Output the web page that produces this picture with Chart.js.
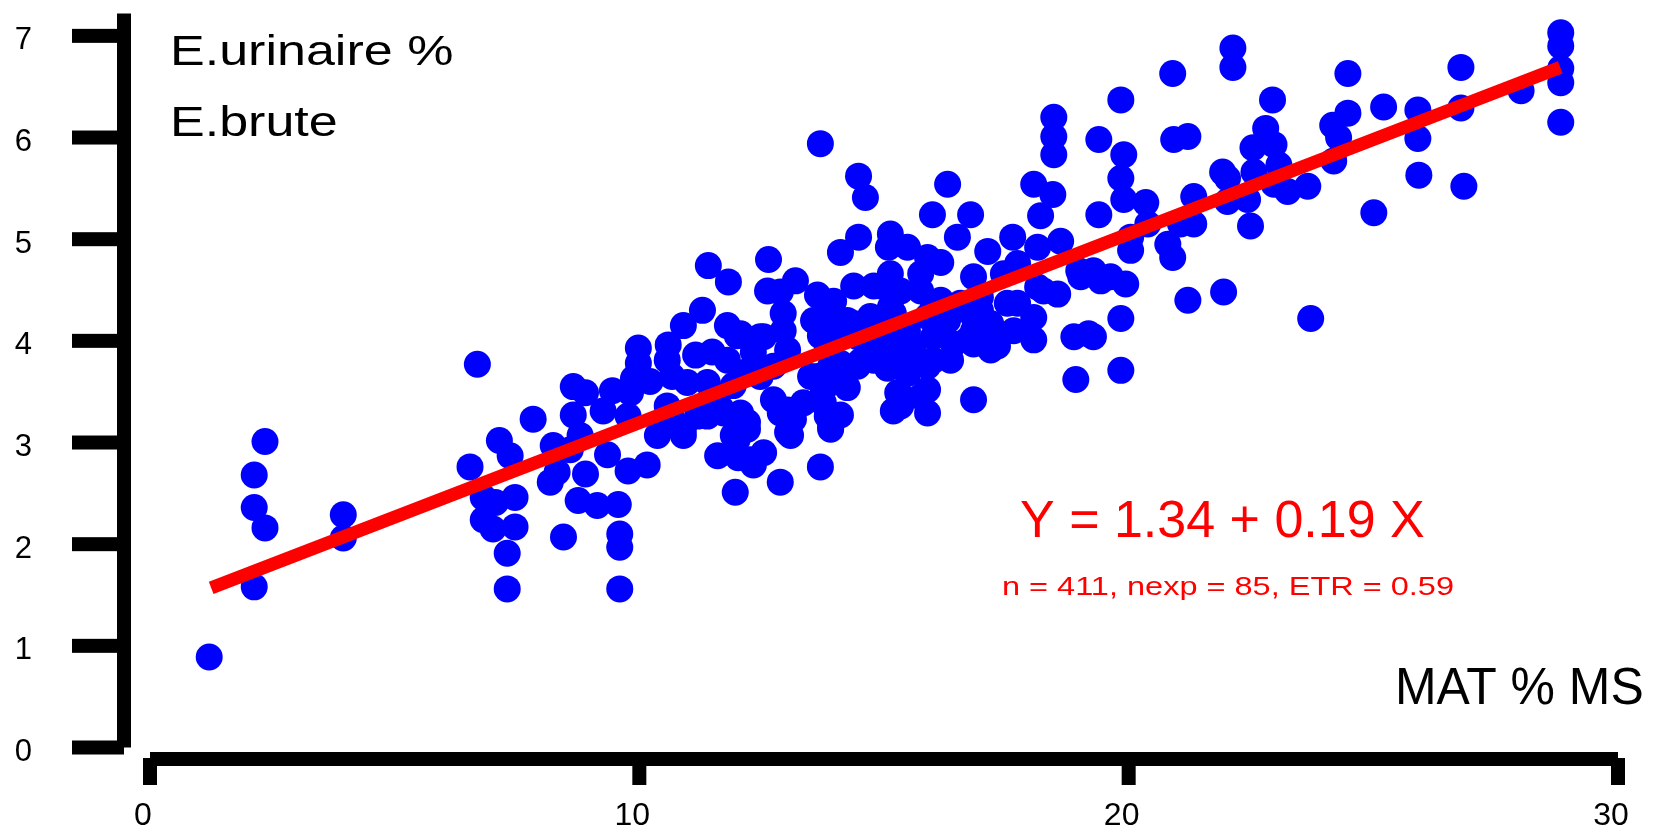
<!DOCTYPE html>
<html>
<head>
<meta charset="utf-8">
<script src="https://cdn.jsdelivr.net/npm/chart.js@4.4.1/dist/chart.umd.min.js"></script>
<style>
  body { margin: 0; background: #fff; }
  #wrap { width: 1668px; height: 832px; }
</style>
</head>
<body>
<div id="wrap"><canvas id="myChart" width="1668" height="832"></canvas></div>
<script>
  // MAT % MS (x) and E.urinaire % E.brute (y)
  const matMS = [
    1.21, 2.35, 2.13, 2.13, 2.35, 2.13, 3.95, 3.95, 6.69, 6.54,
    7.14, 7.36, 6.81, 7.06, 7.46, 6.81, 7.01, 7.46, 7.30, 7.30,
    7.83, 8.45, 8.18, 8.32, 8.90, 8.75, 8.65, 8.90, 8.65, 8.79,
    8.59, 9.14, 9.60, 9.60, 9.60, 9.57, 9.77,
    11.41, 11.82, 12.64, 14.48, 14.11, 15.13, 15.09, 13.19, 12.88, 13.64,
    13.97, 14.38, 14.79, 15.13, 12.94, 13.84, 11.29, 10.90, 11.80, 12.00,
    10.59, 9.98, 11.15, 11.49, 12.54, 12.33, 11.80, 10.57, 9.98, 9.88,
    9.45, 9.82, 10.22, 10.67, 10.98, 9.26, 9.77, 8.24, 9.35, 10.16,
    10.37, 10.90, 10.67, 11.19, 11.66, 12.07, 12.21, 11.92, 11.60, 12.02,
    12.54, 12.33, 11.96, 12.88, 13.70, 13.03, 13.15, 12.88, 13.35, 13.84,
    14.11, 13.91, 13.76, 14.25, 13.50, 13.97, 12.74, 12.47, 12.21, 13.03,
    14.52, 15.07, 15.19, 15.28, 14.79, 14.46, 15.13, 13.70,
    13.70, 14.48, 14.62, 16.30, 15.99, 16.77, 18.47, 18.47, 18.47, 19.39,
    18.06, 18.45, 18.20, 19.39, 17.63, 18.61, 19.28, 19.43, 18.14, 18.26,
    18.55, 18.06, 18.06, 18.88, 19.28, 18.92, 16.83, 17.12, 16.50, 15.89,
    15.48, 14.93, 15.75, 16.16, 16.83, 17.44, 17.73, 18.14, 17.52, 16.97,
    16.56, 16.16, 15.75, 15.34, 12.47, 12.07, 13.76, 14.25, 14.72, 15.13,
    15.48, 15.89, 16.30, 16.83, 17.18, 17.65, 17.32, 16.83, 16.42, 16.01,
    15.60, 15.13, 14.79, 14.46, 13.91, 13.64, 15.48, 15.89, 16.36, 15.34,
    15.89, 15.89, 13.03, 13.91, 12.21, 19.18, 19.02, 12.62, 14.93, 16.97,
    17.73,
    12.94, 13.56, 14.11, 13.84, 14.11, 15.60, 16.01, 17.18, 16.83, 16.16,
    15.48, 14.38, 17.18, 16.71, 16.01, 15.19, 13.84, 13.76, 12.74, 13.09,
    12.00, 12.27, 10.57, 11.92, 11.39, 15.34, 15.75, 16.71, 11.39, 11.72,
    10.90,
    22.13, 22.13, 20.90, 24.48, 19.84, 22.94, 25.21, 24.48, 24.17, 24.29,
    24.19, 19.90, 19.84, 19.90, 20.35, 20.92, 21.21, 22.80, 22.54, 22.97,
    23.07, 22.56, 21.92, 22.02, 22.97, 23.25, 23.66, 22.43, 22.02, 21.33,
    21.33, 21.06, 22.49, 25.01, 20.39, 20.04, 20.80, 20.90, 20.04, 19.63,
    19.94, 18.98, 19.84, 21.21, 21.94, 23.72, 19.84,
    28.83, 28.83, 28.83, 28.83, 28.83, 26.79, 28.02, 26.79, 25.91, 25.91,
    25.93, 26.85
  ];
  const eUrinaire = [
    0.89, 3.01, 2.68, 2.36, 2.16, 1.58, 2.29, 2.06, 3.77, 2.76,
    3.02, 2.87, 2.46, 2.41, 2.46, 2.24, 2.15, 2.17, 1.91, 1.56,
    3.23, 2.07, 2.61, 2.71, 2.69, 2.43, 3.55, 3.49, 3.27, 3.07,
    2.93, 2.38, 2.10, 1.97, 1.56, 2.39, 2.72,
    4.74, 4.58, 4.80, 5.02, 4.87, 5.05, 4.92, 4.59, 4.48, 4.45,
    4.39, 4.54, 4.54, 4.66, 4.27, 4.19, 4.30, 4.15, 4.15, 4.05,
    3.96, 3.93, 3.86, 3.89, 4.04, 3.89, 3.81, 3.81, 3.78, 3.63,
    3.51, 3.49, 3.60, 3.65, 3.59, 3.31, 3.26, 2.97, 2.88, 2.78,
    3.07, 3.07, 3.23, 3.26, 3.34, 3.29, 3.13, 3.07, 2.87, 2.85,
    2.90, 2.78, 2.51, 2.61, 2.76, 3.10, 3.23, 3.29, 3.39, 3.26,
    3.27, 3.15, 3.52, 3.54, 3.65, 3.71, 3.75, 3.65, 3.70, 3.91,
    3.80, 3.73, 3.31, 3.49, 3.91, 4.04, 4.10, 4.05,
    5.94, 5.62, 5.41, 5.54, 5.24, 5.24, 6.20, 6.01, 5.83, 5.98,
    5.54, 5.44, 5.23, 5.24, 5.02, 4.98, 4.69, 4.59, 4.92, 4.49,
    4.46, 4.23, 4.01, 4.04, 4.04, 3.62, 3.42, 4.88, 5.02, 4.82,
    4.92, 4.54, 4.66, 4.77, 4.63, 4.66, 4.76, 4.53, 4.37, 4.30,
    4.37, 4.40, 4.49, 4.49, 4.04, 4.07, 4.24, 4.20, 4.24, 4.33,
    4.10, 4.24, 4.20, 4.24, 4.10, 4.10, 3.95, 3.97, 3.97, 4.04,
    3.95, 3.88, 3.81, 3.75, 3.75, 3.65, 3.68, 3.75, 3.81, 3.46,
    3.52, 3.29, 3.32, 3.13, 3.20, 4.07, 4.63, 4.49, 4.04, 4.43,
    4.37,
    4.10, 4.20, 4.10, 3.95, 3.78, 3.78, 3.81, 3.91, 4.10, 4.10,
    4.04, 4.17, 4.17, 4.34, 4.37, 4.27, 3.59, 3.39, 3.42, 3.07,
    3.03, 2.83, 3.36, 3.56, 3.59, 3.36, 3.45, 4.01, 3.26, 3.29,
    3.13,
    6.88, 6.69, 6.63, 6.63, 6.37, 6.37, 6.30, 6.24, 6.12, 6.00,
    5.77, 5.83, 5.60, 5.39, 5.36, 5.98, 6.01, 6.09, 5.90, 5.93,
    5.73, 5.66, 5.66, 5.60, 5.54, 5.47, 5.52, 5.39, 5.37, 5.42,
    5.15, 5.15, 5.13, 5.26, 5.15, 5.02, 4.95, 4.82, 4.89, 4.63,
    4.56, 4.69, 4.22, 4.40, 4.48, 4.22, 3.71,
    7.03, 6.90, 6.68, 6.54, 6.15, 6.69, 6.46, 6.29, 6.27, 5.99,
    5.63, 5.52
  ];

  // regression line ends, as drawn
  const lineX = [1.25, 28.82];
  const lineY = [1.57, 6.69];

  const xTicks = [0, 10, 20, 30];
  const yTicks = [0, 1, 2, 3, 4, 5, 6, 7];
  const yTop = 7.22;

  const fontName = '"Liberation Sans", Arial, sans-serif';

  // thick offset axes, drawn from the scales
  const axesPlugin = {
    id: 'axes',
    beforeDatasetsDraw(chart) {
      const ctx = chart.ctx, ca = chart.chartArea;
      const xs = chart.scales.x, ys = chart.scales.y;
      ctx.save();
      ctx.fillStyle = '#000';
      // y axis
      const yx = ca.left - 26;
      const yTopPx = ys.getPixelForValue(yTop), y0 = ys.getPixelForValue(0);
      ctx.fillRect(yx - 7, yTopPx, 14, y0 - yTopPx);
      yTicks.forEach(v => {
        const p = ys.getPixelForValue(v);
        ctx.fillRect(yx - 52, p - 7, 52, 14);
      });
      // x axis
      const xy = ca.bottom + 11.5;
      const x0 = xs.getPixelForValue(0), x30 = xs.getPixelForValue(30);
      ctx.fillRect(x0, xy - 7, x30 - x0, 14);
      xTicks.forEach(v => {
        const p = xs.getPixelForValue(v);
        ctx.fillRect(p - 7, xy - 1, 14, 27);
      });
      ctx.restore();
    }
  };

  function stretchText(ctx, txt, x, y, font, sx) {
    ctx.save();
    ctx.font = font;
    ctx.translate(x, y);
    ctx.scale(sx, 1);
    ctx.fillText(txt, 0, 0);
    ctx.restore();
  }

  // labels and equation
  const textPlugin = {
    id: 'texts',
    afterDraw(chart) {
      const ctx = chart.ctx;
      ctx.save();
      ctx.textBaseline = 'alphabetic';
      ctx.textAlign = 'left';
      ctx.fillStyle = '#000';
      stretchText(ctx, 'E.urinaire %', 170, 65, '43px ' + fontName, 1.21);
      stretchText(ctx, 'E.brute', 170, 136, '43px ' + fontName, 1.21);
      stretchText(ctx, 'MAT % MS', 1395, 704, '52px ' + fontName, 0.96);
      ctx.fillStyle = '#ff0000';
      stretchText(ctx, 'Y = 1.34 + 0.19 X', 1020, 537, '52px ' + fontName, 1);
      stretchText(ctx, 'n = 411, nexp = 85, ETR = 0.59', 1002, 595, '26px ' + fontName, 1.25);
      ctx.restore();
    }
  };

  const data = {
    datasets: [{
      type: 'line',
      label: 'regression',
      data: lineX.map((x, i) => ({ x: x, y: lineY[i] })),
      borderColor: '#ff0000',
      borderWidth: 13,
      borderCapStyle: 'butt',
      pointRadius: 0,
      fill: false,
      order: 0,
      clip: false
    }, {
      type: 'scatter',
      label: 'points',
      data: matMS.map((x, i) => ({ x: x, y: eUrinaire[i] })),
      backgroundColor: '#0000ff',
      borderWidth: 0,
      pointRadius: 13.5,
      pointHoverRadius: 13.5,
      order: 1,
      clip: false
    }]
  };

  const config = {
    type: 'scatter',
    data: data,
    options: {
      responsive: false,
      animation: false,
      devicePixelRatio: 1,
      layout: { padding: { top: 7, right: 50, left: 0, bottom: 0 } },
      plugins: { legend: { display: false }, tooltip: { enabled: false } },
      scales: {
        x: {
          type: 'linear', position: 'bottom', min: 0, max: 30,
          grid: { display: false, drawTicks: false },
          border: { display: false },
          afterBuildTicks: s => { s.ticks = xTicks.map(v => ({ value: v })); },
          ticks: {
            font: { family: fontName, size: 32 }, color: '#000',
            padding: 49, labelOffset: -7, maxRotation: 0, autoSkip: false
          },
          afterFit: s => { s.height = 84.5; s.paddingLeft = 0; s.paddingRight = 0; }
        },
        y: {
          type: 'linear', position: 'left', min: 0, max: yTop,
          grid: { display: false, drawTicks: false },
          border: { display: false },
          afterBuildTicks: s => { s.ticks = yTicks.map(v => ({ value: v })); },
          ticks: {
            font: { family: fontName, size: 31 }, color: '#000',
            padding: 118, labelOffset: 5, autoSkip: false
          },
          afterFit: s => { s.width = 150; s.paddingTop = 0; s.paddingBottom = 0; }
        }
      }
    },
    plugins: [axesPlugin, textPlugin]
  };

  const myChart = new Chart(document.getElementById('myChart'), config);
</script>
</body>
</html>
